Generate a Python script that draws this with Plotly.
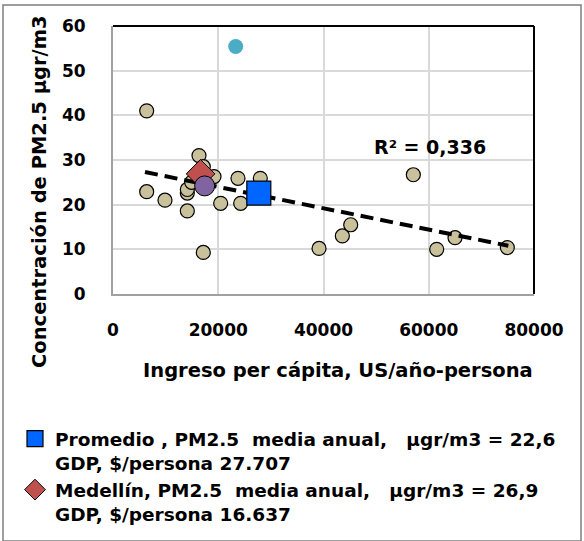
import plotly.graph_objects as go

# --- data ---
ciudades_x = [6400, 16340, 17160, 19190, 23750, 27990, 6400, 9880, 14120, 14120,
              14950, 14120, 20460, 24260, 17160, 39150, 43580, 45170, 57070,
              61510, 64990, 74930]
ciudades_y = [41.0, 31.0, 28.5, 26.3, 25.9, 25.9, 22.9, 21.0, 22.6, 23.4,
              25.0, 18.6, 20.3, 20.3, 9.3, 10.2, 13.0, 15.5, 26.7,
              10.0, 12.6, 10.4]

outlier_x = [23316]
outlier_y = [55.4]

otra_x = [17420]
otra_y = [24.2]

promedio_x = [27707]
promedio_y = [22.6]

medellin_x = [16637]
medellin_y = [26.9]

trend_x = [6080, 75120]
trend_y = [27.3, 10.8]
r2_text = "R² = 0,336"

x_ticks = [0, 20000, 40000, 60000, 80000]
y_ticks = [0, 10, 20, 30, 40, 50, 60]

FONT = "DejaVu Sans"
NB = "\u00a0"
promedio_name = ("Promedio , PM2.5" + NB * 2 + "media anual," + NB * 3 +
                 "µgr/m3 = 22,6<br>GDP, $/persona 27.707")
medellin_name = ("Medellín, PM2.5" + NB * 2 + "media anual," + NB * 3 +
                 "µgr/m3 = 26,9<br>GDP, $/persona 16.637")

W, H = 584, 541
L, R, T, B = 113, 50, 26, 247
PW, PH = W - L - R, H - T - B


def px(xpix):
    return (xpix - L) / PW


def py(ypix):
    return (H - B - ypix) / PH


fig = go.Figure()

fig.add_trace(go.Scatter(
    x=ciudades_x, y=ciudades_y, mode="markers", showlegend=False,
    marker=dict(size=14, color="#C9C19B", line=dict(color="black", width=1.2))))

fig.add_trace(go.Scatter(
    x=outlier_x, y=outlier_y, mode="markers", showlegend=False,
    marker=dict(size=15, color="#4BACC6", line=dict(width=0))))

fig.add_trace(go.Scatter(
    x=trend_x, y=trend_y, mode="lines", showlegend=False,
    line=dict(color="black", width=4, dash="13px,7px")))

fig.add_trace(go.Scatter(
    x=medellin_x, y=medellin_y, mode="markers", name=medellin_name,
    marker=dict(symbol="diamond", size=22, color="#C0504D",
                line=dict(color="black", width=1))))

fig.add_trace(go.Scatter(
    x=otra_x, y=otra_y, mode="markers", showlegend=False,
    marker=dict(size=20, color="#8064A2", line=dict(color="black", width=1))))

fig.add_trace(go.Scatter(
    x=promedio_x, y=promedio_y, mode="markers", name=promedio_name,
    marker=dict(symbol="square", size=24, color="#0066FF",
                line=dict(color="black", width=1.2))))

bold = dict(family=FONT, color="black", weight="bold")

fig.update_layout(
    width=W, height=H,
    margin=dict(l=L, r=R, t=T, b=B, autoexpand=False),
    paper_bgcolor="white", plot_bgcolor="white",
    font=dict(family=FONT, size=18, color="black"),
    legend=dict(
        x=px(15), y=py(420), xanchor="left", yanchor="top",
        traceorder="reversed", valign="top",
        font=dict(bold, size=18.5),
        bgcolor="rgba(0,0,0,0)", tracegroupgap=2,
    ),
    xaxis=dict(
        range=[0, 80000], tickvals=x_ticks, ticktext=[str(v) for v in x_ticks],
        showgrid=True, gridcolor="#D9D9D9", gridwidth=1.5,
        showline=True, linecolor="#A0A0A0", linewidth=2,
        zeroline=False, ticks="", ticklabelstandoff=20, automargin=False,
        tickfont=dict(bold, size=17),
    ),
    yaxis=dict(
        range=[0, 60], tickvals=y_ticks, ticktext=[str(v) for v in y_ticks],
        showgrid=True, gridcolor="#D9D9D9", gridwidth=1.5,
        showline=True, linecolor="#A0A0A0", linewidth=2,
        zeroline=False, ticks="", ticklabelstandoff=22, automargin=False,
        tickfont=dict(bold, size=17),
    ),
    shapes=[
        dict(type="line", xref="paper", yref="paper", x0=0, x1=1, y0=1, y1=1,
             line=dict(color="black", width=2)),
        dict(type="line", xref="paper", yref="paper", x0=1, x1=1, y0=0, y1=1,
             line=dict(color="black", width=2)),
        dict(type="rect", xref="paper", yref="paper",
             x0=px(3), x1=px(581), y0=py(541), y1=py(5),
             line=dict(color="#7F7F7F", width=1.5)),
    ],
    annotations=[
        dict(text=r2_text, x=60250, y=32.9, xref="x", yref="y",
             showarrow=False, font=dict(bold, size=19)),
        dict(text="Ingreso per cápita, US/año-persona", xref="paper", yref="paper",
             x=px(338), y=py(370), showarrow=False, xanchor="center", yanchor="middle",
             font=dict(bold, size=19.5)),
        dict(text="Concentración de PM2.5 µgr/m3", xref="paper", yref="paper",
             x=px(39), y=py(192), showarrow=False, textangle=-90,
             xanchor="center", yanchor="middle",
             font=dict(bold, size=19.5)),
    ],
)

fig.write_html("out.html",
               config={"displayModeBar": False},
               post_script="document.body.style.margin='0px';")
